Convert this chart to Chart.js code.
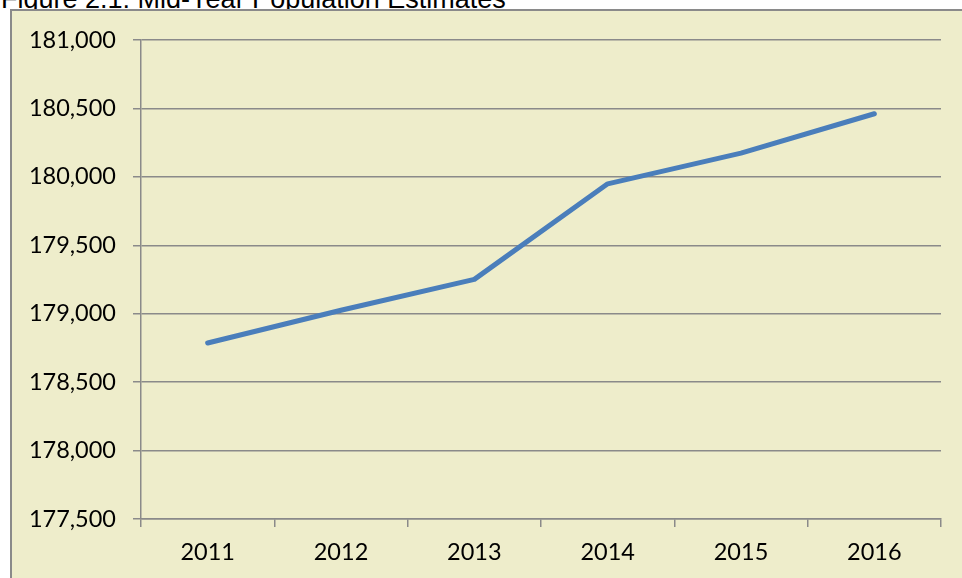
<!DOCTYPE html>
<html>
<head>
<meta charset="utf-8">
<script src="https://cdn.jsdelivr.net/npm/chart.js@4"></script>
<style>
  html, body { margin: 0; padding: 0; width: 962px; height: 578px; overflow: hidden; background: #ffffff; }
  #title { position: absolute; left: 1px; top: -16px; font-family: "Liberation Sans", Arial, sans-serif; font-size: 27px; color: #000; white-space: nowrap; }
  #frame { position: absolute; left: 10px; top: 9px; width: 960px; height: 580px; background: #EEEDCB; border-left: 2px solid #8A8A8A; border-top: 2px solid #8A8A8A; }
  #wrap { position: absolute; left: 0; top: 0; width: 962px; height: 578px; }
</style>
</head>
<body>
<div id="title">Figure 2.1: Mid-Year Population Estimates</div>
<div id="frame"></div>
<div id="wrap"><canvas id="c" width="962" height="578"></canvas></div>
<script>
const years = ["2011", "2012", "2013", "2014", "2015", "2016"];
const population = [178786, 179025, 179251, 179949, 180173, 180461];
const yMin = 177500;
const yMax = 181000;
const yStep = 500;

const gridColor = '#8A8A8A';

new Chart(document.getElementById('c'), {
  type: 'line',
  data: {
    labels: years,
    datasets: [{
      data: population,
      borderColor: '#4A7EBB',
      borderWidth: 5,
      borderCapStyle: 'round',
      borderJoinStyle: 'round',
      pointRadius: 0,
      tension: 0,
      fill: false
    }]
  },
  options: {
    responsive: false,
    animation: false,
    layout: { padding: { left: 0, right: 21, top: 40, bottom: 0 } },
    plugins: { legend: { display: false }, title: { display: false }, tooltip: { enabled: false } },
    scales: {
      x: {
        offset: true,
        grid: { offset: true, drawOnChartArea: false, drawTicks: true, tickLength: 8, color: gridColor, lineWidth: 1.5 },
        border: { display: true, color: gridColor, width: 1.5 },
        ticks: { color: '#000', font: { family: 'Lato', size: 23.5 }, padding: 11, maxRotation: 0 },
        afterFit: s => { s.height = 59; }
      },
      y: {
        min: yMin, max: yMax,
        grid: { color: gridColor, lineWidth: 1.5, drawTicks: true, tickLength: 8 },
        border: { display: true, color: gridColor, width: 1.5 },
        ticks: { stepSize: yStep, color: '#000', font: { family: 'Lato', size: 23.5 }, padding: 17,
                 callback: v => v.toLocaleString('en-US') },
        afterFit: s => { s.width = 141; }
      }
    }
  }
});
</script>
</body>
</html>
